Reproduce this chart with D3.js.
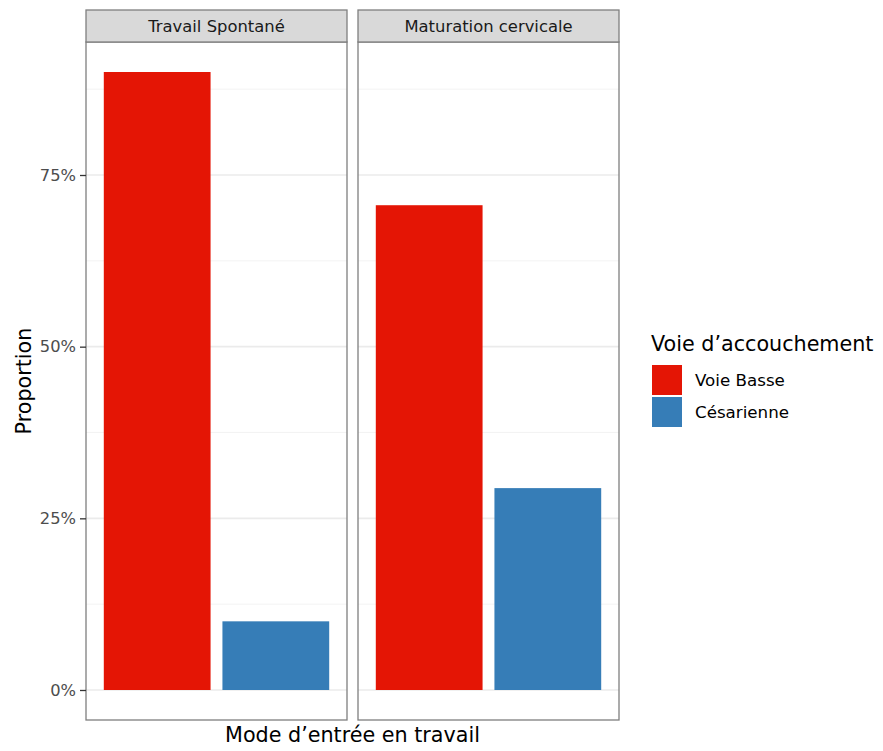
<!DOCTYPE html>
<html><head><meta charset="utf-8">
<script src="https://cdn.jsdelivr.net/npm/d3@7"></script>
<style>body{margin:0;background:#fff}svg{font-family:"DejaVu Sans",sans-serif}</style>
</head><body><svg id="c" width="883" height="751"></svg>
<script>
const panels = ["Travail Spontané", "Maturation cervicale"];
const voies = ["Voie Basse", "Césarienne"];
const colors = ["#E41505", "#367DB7"];
const values = [[0.90, 0.10], [0.706, 0.294]];
const yTicks = [0, 0.25, 0.5, 0.75];
const yMinor = [0.125, 0.375, 0.625, 0.875];

const svg = d3.select("#c");
const panelX = [86, 358], panelW = 261, pTop = 42, pBottom = 720, stripTop = 10;
const y = d3.scaleLinear().domain([-0.0437, 0.9437]).range([pBottom, pTop]);

panels.forEach((p, i) => {
  const g = svg.append("g").attr("transform", `translate(${panelX[i]},0)`);
  // ggplot discrete: positions 1,2 with range [0.4,2.6]
  const xl = d3.scaleLinear().domain([0.4, 2.6]).range([0, panelW]);
  g.append("rect").attr("x",0).attr("y",pTop).attr("width",panelW).attr("height",pBottom-pTop).attr("fill","#fff");
  g.selectAll(".mn").data(yMinor).enter().append("line")
    .attr("x1",0).attr("x2",panelW).attr("y1",d=>y(d)).attr("y2",d=>y(d))
    .attr("stroke","#f0f0f0").attr("stroke-width",0.8);
  g.selectAll(".mj").data(yTicks).enter().append("line")
    .attr("x1",0).attr("x2",panelW).attr("y1",d=>y(d)).attr("y2",d=>y(d))
    .attr("stroke","#ebebeb").attr("stroke-width",1.6);
  g.selectAll(".bar").data(values[i]).enter().append("rect")
    .attr("x",(d,j)=>xl(j+1-0.45)).attr("width",xl(1.45)-xl(0.55))
    .attr("y",d=>y(d)).attr("height",d=>y(0)-y(d)).attr("fill",(d,j)=>colors[j]);
  g.append("rect").attr("x",0).attr("y",pTop).attr("width",panelW).attr("height",pBottom-pTop)
    .attr("fill","none").attr("stroke","#7f7f7f").attr("stroke-width",1.3);
  g.append("rect").attr("x",0).attr("y",stripTop).attr("width",panelW).attr("height",pTop-stripTop)
    .attr("fill","#d9d9d9").attr("stroke","#7f7f7f").attr("stroke-width",1.3);
  g.append("text").attr("x",panelW/2).attr("y",(stripTop+pTop)/2).attr("dy","0.35em")
    .attr("text-anchor","middle").attr("font-size",16.4).attr("fill","#1a1a1a").text(p);
});

const ya = svg.append("g").attr("transform",`translate(${panelX[0]},0)`)
  .call(d3.axisLeft(y).tickValues(yTicks).tickFormat(d3.format(".0%")).tickSize(6).tickPadding(4));
ya.select(".domain").remove();
ya.selectAll(".tick line").attr("stroke","#333").attr("stroke-width",1.3);
ya.selectAll(".tick text").attr("font-size",16.3).attr("fill","#4d4d4d").attr("font-family","DejaVu Sans");

svg.append("text").attr("x",(panelX[0]+panelX[1]+panelW)/2).attr("y",742)
  .attr("text-anchor","middle").attr("font-size",20.7).attr("fill","#000").text("Mode d’entrée en travail");
svg.append("text").attr("transform",`translate(31,${(pTop+pBottom)/2}) rotate(-90)`)
  .attr("text-anchor","middle").attr("font-size",20.7).attr("fill","#000").text("Proportion");

const lg = svg.append("g");
lg.append("text").attr("x",651).attr("y",351).attr("font-size",20.7).attr("fill","#000").text("Voie d’accouchement");
voies.forEach((v,j)=>{
  lg.append("rect").attr("x",652).attr("y",365+j*32).attr("width",30).attr("height",30).attr("fill",colors[j]);
  lg.append("text").attr("x",695).attr("y",380+j*32).attr("dy","0.35em").attr("font-size",16.7).attr("fill","#000").text(v);
});
</script></body></html>
